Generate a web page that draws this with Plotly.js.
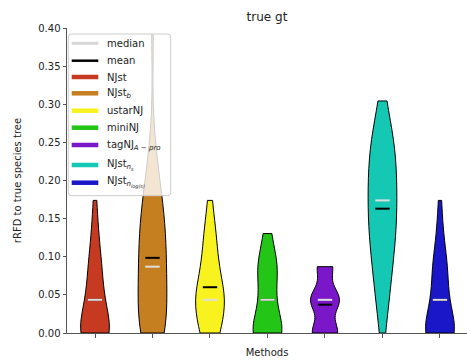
<!DOCTYPE html>
<html>
<head>
<meta charset="utf-8">
<script src="https://cdn.plot.ly/plotly-3.0.1.min.js"></script>
<style>
  html, body { margin: 0; padding: 0; background: #fff; }
  #chart { width: 467px; height: 361px; }
</style>
</head>
<body>
<div id="chart"></div>
<script>
// rRFD values that occur (k / 23 split distance)
const rfdLevels = [0.0000, 0.0435, 0.0870, 0.1304, 0.1739, 0.2174, 0.2609, 0.3043, 0.3478, 0.3913];

const methodNames = [
  'NJst',
  'NJst<sub><i>b</i></sub>',
  'ustarNJ',
  'miniNJ',
  'tagNJ<sub><i>A − pro</i></sub>',
  'NJst<sub><i>n<sub>s</sub></i></sub>',
  'NJst<sub><i>n<sub>log(s)</sub></i></sub>'
];
const methodColors = ['#c53a21', '#c57f21', '#f8f31e', '#23c517', '#7a17c8', '#15c8b4', '#1a17c8'];

// number of replicates at each rRFD level, per method
const countsNJst      = [11, 5, 4, 2, 1];
const countsNJstB     = [10, 8, 8, 8, 6, 3, 1, 0, 0, 1];
const countsUstarNJ   = [5, 8, 4, 3, 1];
const countsMiniNJ    = [10, 4, 6, 2];
const countsTagNJ     = [15, 17, 9];
const countsNJstNs    = [1, 3, 4, 6, 6, 6, 5, 1];
const countsNJstNlog  = [12, 5, 5, 2, 1];

const allCounts = [countsNJst, countsNJstB, countsUstarNJ, countsMiniNJ, countsTagNJ, countsNJstNs, countsNJstNlog];

function expand(counts) {
  const out = [];
  counts.forEach((c, k) => { for (let j = 0; j < c; j++) out.push(rfdLevels[k]); });
  return out;
}
function mean(a) { return a.reduce((s, v) => s + v, 0) / a.length; }
function median(a) {
  const s = a.slice().sort((p, q) => p - q);
  const m = Math.floor(s.length / 2);
  return s.length % 2 ? s[m] : (s[m - 1] + s[m]) / 2;
}
// Scott's rule, as used by gaussian_kde
function scottBandwidth(a) {
  const mu = mean(a);
  const v = a.reduce((s, x) => s + (x - mu) * (x - mu), 0) / (a.length - 1);
  return Math.sqrt(v) * Math.pow(a.length, -0.2);
}

const samples = allCounts.map(expand);
const halfLine = 0.125;

const traces = [];

samples.forEach((ys, i) => {
  traces.push({
    type: 'violin',
    x0: i,
    y: ys,
    name: methodNames[i],
    width: 0.5,
    spanmode: 'hard',
    scalemode: 'width',
    bandwidth: scottBandwidth(ys),
    points: false,
    box: { visible: false },
    meanline: { visible: false },
    line: { color: '#000000', width: 1 },
    fillcolor: methodColors[i],
    opacity: 1,
    hoverinfo: 'skip'
  });
});

function segmentTrace(statFn, color) {
  const xs = [], ys = [];
  samples.forEach((s, i) => {
    const v = statFn(s);
    xs.push(i - halfLine, i + halfLine, null);
    ys.push(v, v, null);
  });
  return { type: 'scatter', mode: 'lines', x: xs, y: ys, line: { color: color, width: 2 },
           hoverinfo: 'skip' };
}
traces.push(segmentTrace(mean, '#000000'));
traces.push(segmentTrace(median, '#dedede'));

// legend box drawn in the upper-left corner of the axes
const plotL = 67, plotT = 28, plotW = 400, plotH = 305;
const px = x => (x - plotL) / plotW;
const py = y => 1 - (y - plotT) / plotH;

const legendItems = [
  { text: 'median', color: '#d6d6d6', width: 3 },
  { text: 'mean', color: '#000000', width: 2.5 }
].concat(methodNames.map((n, i) => ({ text: n, color: methodColors[i], width: 4.5 })));
const legendRows = [43.3, 60.7, 77, 93.3, 110.7, 127.7, 145, 165, 182.7];

const box = { l: 68.3, r: 170.7, t: 34, b: 195.7, rad: 3 };
const rx = box.rad / plotW, ry = box.rad / plotH;
const bl = px(box.l), br = px(box.r), bt = py(box.t), bb = py(box.b);
const boxPath = `M${bl + rx},${bt} L${br - rx},${bt} Q${br},${bt} ${br},${bt - ry} ` +
  `L${br},${bb + ry} Q${br},${bb} ${br - rx},${bb} L${bl + rx},${bb} Q${bl},${bb} ${bl},${bb + ry} ` +
  `L${bl},${bt - ry} Q${bl},${bt} ${bl + rx},${bt} Z`;

const shapes = [{
  type: 'path', xref: 'paper', yref: 'paper', path: boxPath, layer: 'above',
  fillcolor: 'rgba(255,255,255,0.8)', line: { color: '#cccccc', width: 1 }
}];
const annotations = [];
legendItems.forEach((it, k) => {
  const y = py(legendRows[k]);
  shapes.push({ type: 'line', xref: 'paper', yref: 'paper', layer: 'above',
                x0: px(71.7), x1: px(98.3), y0: y, y1: y,
                line: { color: it.color, width: it.width } });
  annotations.push({ xref: 'paper', yref: 'paper', x: px(105), y: y, xanchor: 'left', yanchor: 'middle',
                     text: it.text, showarrow: false, font: { size: 10, color: '#222222' } });
});

const axisColor = '#555555';
const yTicks = [0, 0.05, 0.10, 0.15, 0.20, 0.25, 0.30, 0.35, 0.40];

const layout = {
  width: 467,
  height: 361,
  margin: { l: plotL, r: 0, t: plotT, b: 28 },
  paper_bgcolor: '#ffffff',
  plot_bgcolor: '#ffffff',
  font: { family: 'DejaVu Sans', size: 10, color: '#222222' },
  title: { text: 'true gt', font: { size: 12, color: '#222222' }, x: 0.5, xref: 'paper',
           y: 1 - 17 / 361, yref: 'container', yanchor: 'middle' },
  violinmode: 'overlay',
  showlegend: false,
  shapes: shapes,
  annotations: annotations,
  xaxis: {
    range: [-0.487, 6.47],
    tickvals: [0, 1, 2, 3, 4, 5, 6],
    showticklabels: false,
    ticks: 'outside', ticklen: 3.5, tickwidth: 1, tickcolor: axisColor,
    showline: true, linecolor: axisColor, linewidth: 1,
    showgrid: false, zeroline: false,
    title: { text: 'Methods', standoff: 12, font: { size: 10 } }
  },
  yaxis: {
    range: [0, 0.4],
    tickvals: yTicks,
    tickformat: '.2f',
    ticks: 'outside', ticklen: 3.5, tickwidth: 1, tickcolor: axisColor,
    showline: true, linecolor: axisColor, linewidth: 1,
    showgrid: false, zeroline: false,
    title: { text: 'rRFD to true species tree', standoff: 14, font: { size: 10 } }
  }
};

Plotly.newPlot('chart', traces, layout, { displayModeBar: false, staticPlot: true });
</script>
</body>
</html>
